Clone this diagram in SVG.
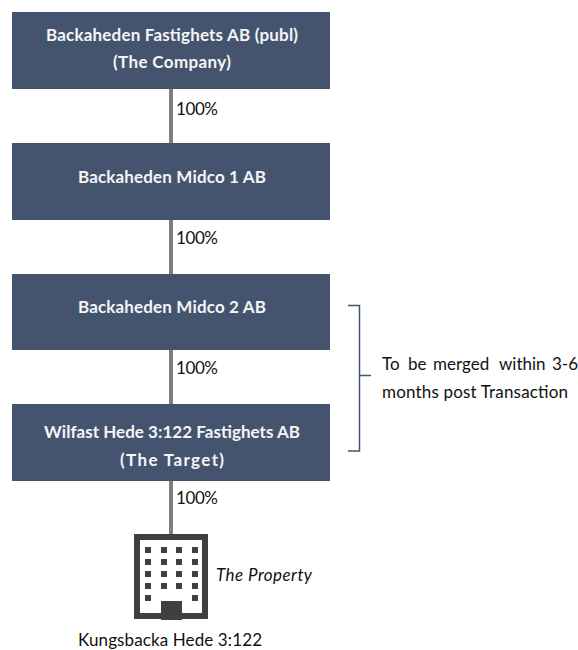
<svg xmlns="http://www.w3.org/2000/svg" width="578" height="650" viewBox="0 0 578 650">
<style>
.box{fill:#44546f}
.t{font-family:Lato,"Open Sans",sans-serif;font-size:17px;fill:#111}
.w{font-family:Lato,"Open Sans",sans-serif;font-size:17px;font-weight:700;fill:#f5f5f5;text-anchor:middle}
.c{stroke:#7f7f7f;stroke-width:4;fill:none}
.win{fill:#404040}
</style>
<rect width="578" height="650" fill="#fff"/>
<g id="connectors">
<line class="c" x1="171" y1="89" x2="171" y2="143"/>
<line class="c" x1="171" y1="220" x2="171" y2="274"/>
<line class="c" x1="171" y1="350" x2="171" y2="404"/>
<line class="c" x1="171" y1="481" x2="171" y2="535"/>
<path d="M348 305.500H359.500V451H348M359.500 375.500H371" fill="none" stroke="#44546f" stroke-width="1.500"/>
</g>
<g id="n1"><rect class="box" x="12" y="12" width="318" height="77"/>
<text class="w" x="172" y="40.500" textLength="252">Backaheden Fastighets AB (publ)</text>
<text class="w" x="172" y="68" textLength="118">(The Company)</text></g>
<g id="n2"><rect class="box" x="12" y="143" width="318" height="77"/>
<text class="w" x="172" y="183" textLength="188">Backaheden Midco 1 AB</text></g>
<g id="n3"><rect class="box" x="12" y="274" width="318" height="76"/>
<text class="w" x="172" y="313" textLength="188">Backaheden Midco 2 AB</text></g>
<g id="n4"><rect class="box" x="12" y="404" width="318" height="77"/>
<text class="w" x="172" y="437.500" textLength="256">Wilfast Hede 3:122 Fastighets AB</text>
<text class="w" x="172" y="465.500" textLength="104">(The Target)</text></g>
<g id="labels">
<text class="t" x="176" y="115" textLength="42">100%</text>
<text class="t" x="176" y="244" textLength="42">100%</text>
<text class="t" x="176" y="374" textLength="42">100%</text>
<text class="t" x="176" y="504" textLength="42">100%</text>
<text class="t" y="369.500"><tspan x="382">To</tspan> <tspan x="408">be</tspan> <tspan x="433">merged</tspan> <tspan x="499">within</tspan> <tspan x="552">3-6</tspan></text>
<text class="t" x="382" y="397.500" textLength="186">months post Transaction</text>
</g>
<g id="property">
<rect x="137" y="537" width="68" height="79" fill="#fff" stroke="#404040" stroke-width="6"/>
<rect class="win" x="161" y="601" width="21" height="19"/>
<path class="win" d="M145 547h6v6h-6zM161 547h6v6h-6zM176 547h6v6h-6zM192 547h6v6h-6zM145 559h6v6h-6zM161 559h6v6h-6zM176 559h6v6h-6zM192 559h6v6h-6zM145 571h6v6h-6zM161 571h6v6h-6zM176 571h6v6h-6zM192 571h6v6h-6zM145 583h6v6h-6zM161 583h6v6h-6zM176 583h6v6h-6zM192 583h6v6h-6zM145 595h6v6h-6zM192 595h6v6h-6z"/>
<text class="t" x="216" y="580.500" font-style="italic" textLength="96">The Property</text>
<text class="t" x="78" y="646" textLength="184">Kungsbacka Hede 3:122</text>
</g>
</svg>
